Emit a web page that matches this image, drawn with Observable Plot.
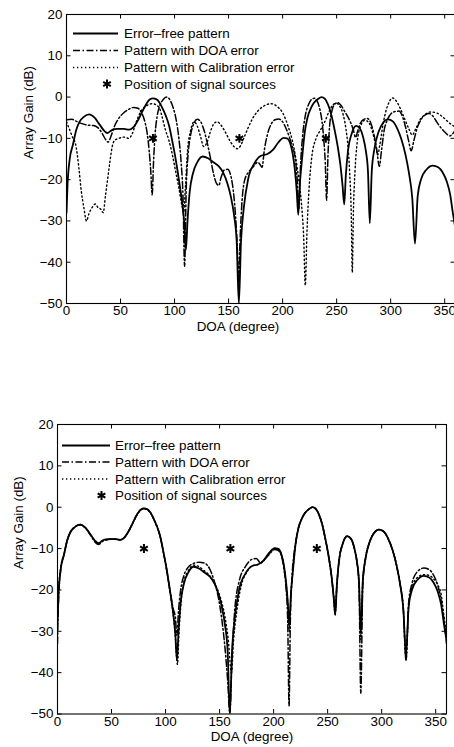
<!DOCTYPE html>
<html><head><meta charset="utf-8">
<script src="https://cdn.jsdelivr.net/npm/d3@7"></script>
<script src="https://cdn.jsdelivr.net/npm/@observablehq/plot@0.6"></script>
<style>
html,body{margin:0;padding:0;background:#fff;}
body{width:454px;height:747px;overflow:hidden;position:relative;font-family:"Liberation Sans",Arial,sans-serif;}
#top{position:absolute;left:0;top:0;width:472px;}
#bottom{position:absolute;left:0;top:410px;width:454px;}
#legend{position:absolute;left:0;top:0;}
</style></head><body>
<div id="top"></div><div id="bottom"></div>
<svg id="legend" width="454" height="747"></svg>
<script>
// ---------- data ----------
const xTicks = [0, 50, 100, 150, 200, 250, 300, 350];
const yTicks = [-50, -40, -30, -20, -10, 0, 10, 20];
const xLabel = "DOA (degree)";
const yLabel = "Array Gain (dB)";
const legendLabels = ["Error\u2013free pattern", "Pattern with DOA error", "Pattern with Calibration error", "Position of signal sources"];
const sourceDOA = [80, 160, 240];
const sourceGain = [-10, -10, -10];

// error-free pattern [DOA, gain dB]
const errorFree = [[0,-28],[1,-21],[3,-15],[6,-11.5],[9,-8],[12,-6],[16,-4.8],[21,-4.2],[26,-5],[31,-6.8],[35,-8.2],[38,-8.7],[42,-8],[47,-7.7],[53,-7.7],[58,-7.9],[62,-7.3],[66,-5.7],[70,-3.6],[74,-1.6],[77,-0.6],[80,-0.3],[83,-0.5],[86,-1.3],[89,-2.8],[92,-4.6],[95,-7],[98,-10.8],[101,-15],[104,-20],[107,-25.5],[109,-30.5],[110.5,-37],[112,-30],[114,-23],[117,-18.5],[121,-15.8],[126,-14.4],[131,-14.8],[136,-15.8],[141,-16.8],[145,-18.3],[149,-21],[152,-24],[155,-28.5],[157.5,-35],[159.5,-50],[161.5,-35],[164,-27],[168,-20],[174,-16],[180,-14.2],[186,-13.8],[191,-12.8],[196,-11],[201,-9.9],[204,-10],[207,-11.2],[209.5,-14],[211.5,-18],[213,-22.5],[214.5,-28.5],[216,-21],[218,-15],[220.5,-8.5],[223,-5],[226,-2.8],[229,-1.4],[233,-0.4],[236,0],[239,-0.4],[242,-1.8],[245,-4.2],[248,-7.8],[251,-12],[253.5,-16.5],[255.5,-21.5],[257,-26],[258.5,-19],[260.5,-13],[264,-8.8],[268,-7],[271.5,-7.6],[274.5,-9.7],[277,-13],[279,-18],[280.7,-30.6],[282.5,-18],[285,-12.5],[289,-8.3],[293,-6.2],[297.5,-5.4],[302,-5.9],[306,-7.6],[310,-10.3],[314,-14.3],[317,-18.5],[320,-24.5],[322.5,-35.5],[325,-24],[328,-20],[333,-17.6],[339,-16.6],[344,-17],[348,-18.2],[352,-20.5],[355,-23.5],[357.5,-28],[360,-32]];

// upper panel: DOA error
const topDoaError = [[0,-5.5],[5,-5.4],[10,-6],[15,-6.5],[20,-6.8],[25,-6.9],[29,-7.4],[33,-8.8],[36,-10.2],[38.5,-10.9],[41,-9.6],[44,-7.3],[48,-5.3],[53,-3.8],[58,-2.9],[62.3,-2.5],[66,-2.7],[69,-3.6],[72,-5.5],[74.5,-8.5],[76.5,-13],[78,-18],[79.3,-23.7],[80.5,-16],[82,-9],[84,-4.5],[86.5,-2],[89.5,-0.6],[93,0],[96,-0.8],[99,-2.8],[101.5,-5.5],[104,-10],[106,-15.5],[107.8,-24],[109.3,-41],[110.8,-22],[112.5,-14],[115,-9],[118,-6.3],[121,-5.4],[124,-5.9],[127,-7.8],[130,-10.8],[133,-14.5],[136,-18.5],[139,-21],[141,-21.4],[143,-19.5],[146,-17.7],[149,-17.5],[152,-19],[154.5,-23],[156.5,-29],[158,-36],[159.3,-45],[160.7,-34],[162.5,-25],[165,-20],[169,-18],[173,-16.8],[177,-15.8],[179.5,-16.5],[181,-17],[183,-13],[186,-9],[189.5,-6.5],[193,-5.5],[196.5,-5.3],[200,-6],[203,-7.5],[206,-9.5],[209,-12],[211.5,-14.5],[213.5,-20],[215,-27],[216.5,-17],[218.5,-9.5],[221,-4.5],[224,-1.8],[227,-0.5],[229.5,-0.3],[232,-1],[234.5,-3],[236.5,-6],[238,-10],[239.5,-16],[240.7,-25],[242,-14],[243.5,-7],[245.5,-3.5],[248,-1.8],[251,-1.3],[254,-2],[257,-3.3],[260,-4.6],[263,-6.2],[265.5,-8],[267.5,-9.8],[269.5,-8.2],[272,-6.3],[275,-5.4],[278.4,-5.2],[281.5,-6.2],[284.5,-9],[287,-12.5],[289.5,-16.8],[291.5,-13],[294,-8],[297,-5.5],[300.5,-4],[304,-3.5],[307.7,-3.4],[311,-4.8],[314,-7.5],[316.5,-10.5],[319,-13],[321.5,-10.5],[324.5,-7.5],[328,-5.5],[332,-4.3],[335.5,-4],[339,-4.6],[343,-6.2],[347,-7.6],[351,-8.7],[354.5,-9.4],[357,-9],[360,-7.8]];

// upper panel: calibration error
const topCalError = [[0,-6],[3,-8],[6,-10],[8.3,-11.3],[11.4,-17],[13.6,-22.6],[16,-26.7],[18.5,-30],[20.7,-28.3],[23.8,-26.7],[26.9,-25.9],[29,-26.7],[31.5,-27.1],[34,-28],[36,-24],[38,-20],[40,-16],[42.3,-12],[44.4,-10.5],[48.5,-10],[53,-9.7],[57.7,-10],[60.8,-8.9],[63.9,-6.5],[68.5,-3.6],[74.7,-2],[79.3,-1.6],[85.5,-2.4],[88.6,-4.9],[91.7,-8.1],[94.8,-10.5],[98,-14],[101,-18],[104,-22],[107,-26.5],[108.5,-28],[110,-22],[112,-13],[115,-8],[118,-6],[121,-7],[124,-9.5],[127,-12],[130,-11],[133,-8.5],[136,-6.6],[139.5,-6],[143,-6.8],[147,-8.5],[151,-10.5],[155,-12],[158,-12.5],[161,-11.8],[164,-10],[168,-7.5],[172,-5.3],[177,-3.4],[183,-2.1],[189,-1.6],[195,-2.3],[200,-3.8],[205,-7],[209,-10.5],[212,-14.5],[215,-20],[217.5,-26],[219.5,-34],[221,-45.6],[222.5,-33],[224.5,-22],[227,-14.5],[231,-10],[235,-8],[239,-6],[243,-3.5],[247,-1.8],[250,-1.5],[253,-2.3],[256,-4.2],[258.5,-7.5],[260.5,-12],[262,-18],[263.5,-28],[264.5,-42.5],[265.5,-28],[267,-18],[269,-11],[272,-7.2],[276,-5.6],[280,-6.3],[283,-8.3],[286,-11.5],[288,-14],[290,-11.5],[293,-6.5],[296,-3],[299,-1],[301.5,-0.2],[305,-0.9],[309,-2.8],[313,-5.3],[317,-7.8],[320,-9.2],[323,-7.8],[327,-5.6],[332,-4.2],[337,-3.6],[343,-3.9],[349,-5],[354,-6.2],[360,-7.3]];

// lower panel: DOA error
const botDoaError = [[0,-33],[1,-22],[3,-15],[6,-11.5],[9,-8],[12,-6],[16,-4.8],[21,-4.2],[26,-5],[31,-6.9],[35,-8.5],[38,-9],[42,-8.2],[47,-7.8],[53,-7.7],[58,-7.9],[62,-7.3],[66,-5.7],[70,-3.6],[74,-1.6],[77,-0.6],[80,-0.3],[83,-0.5],[86,-1.3],[89,-2.8],[92,-4.6],[95,-7],[98,-10.8],[101,-15],[104,-20],[107,-24.5],[109,-26.5],[110.5,-31],[112,-25],[114,-20],[117,-16.5],[121,-14.5],[126,-13.6],[131,-13.3],[136,-13.5],[141,-15],[145,-17.8],[149,-22],[152,-27],[155,-34],[157.5,-42],[159.5,-50],[161.5,-36],[164,-25],[168,-18],[174,-14.3],[180,-12.6],[184,-12.4],[188,-13.5],[191,-12.8],[196,-11.4],[201,-10.2],[204,-10.4],[207,-11.6],[209.5,-14.8],[211.5,-19.5],[213,-27],[214.3,-48],[215.5,-27],[217,-17],[219,-11],[220.5,-8.5],[223,-5],[226,-2.8],[229,-1.4],[233,-0.4],[236,0],[239,-0.4],[242,-1.8],[245,-4.2],[248,-7.8],[251,-12],[253.5,-16.5],[255.5,-21.5],[257,-26],[258.5,-19],[260.5,-13],[264,-8.8],[268,-7],[271.5,-7.6],[274.5,-9.7],[277,-13],[279,-19],[280.7,-45],[282.5,-19],[285,-12.5],[289,-8.3],[293,-6.2],[297.5,-5.4],[302,-5.9],[306,-7.6],[310,-10.3],[314,-14.3],[317,-18.5],[320,-24.5],[322.5,-37],[325,-23],[328,-18.5],[333,-15.6],[339,-14.7],[344,-15.1],[348,-16.4],[352,-19],[355,-22.5],[357.5,-27],[360,-33]];

// lower panel: calibration error
const botCalError = [[0,-26],[1,-20],[3,-14.5],[6,-11.3],[9,-8],[12,-6],[16,-4.8],[21,-4.3],[26,-5.1],[31,-6.9],[35,-8.3],[38,-8.8],[42,-8.1],[47,-7.8],[53,-7.7],[58,-7.9],[62,-7.3],[66,-5.8],[70,-3.7],[74,-1.7],[77,-0.7],[80,-0.4],[83,-0.6],[86,-1.4],[89,-2.9],[92,-4.7],[95,-7.1],[98,-10.9],[101,-15.2],[104,-20.3],[107,-25.8],[109,-31],[111,-38],[112.5,-30],[114.5,-22.5],[117,-18],[121,-15.4],[126,-14],[131,-14.4],[136,-15.4],[141,-16.6],[145,-18.3],[149,-20.5],[152,-23],[155,-26.5],[158,-32],[161,-40],[163,-32],[166,-25],[170,-19],[175,-15.8],[180,-14.2],[186,-13.8],[191,-12.9],[196,-11.2],[201,-10],[204,-10.1],[207,-11.3],[209.5,-14.2],[211.5,-18.5],[213,-23],[214.5,-30],[216,-21.5],[218,-15],[220.5,-8.5],[223,-5],[226,-2.8],[229,-1.4],[233,-0.4],[236,0],[239,-0.4],[242,-1.8],[245,-4.2],[248,-7.8],[251,-12],[253.5,-16.5],[255.5,-21.5],[257,-25],[258.5,-19],[260.5,-13],[264,-8.8],[268,-7],[271.5,-7.6],[274.5,-9.7],[277,-13],[279,-18],[280.7,-32],[282.5,-18],[285,-12.5],[289,-8.3],[293,-6.2],[297.5,-5.4],[302,-5.9],[306,-7.6],[310,-10.3],[314,-14.3],[317,-18.5],[320,-24.5],[322.5,-37],[325,-24],[328,-19.5],[333,-17],[339,-16.3],[344,-16.5],[348,-17.3],[352,-18.8],[355,-21],[357.5,-26],[360,-31]];

// ---------- drawing ----------
const FONT = "'Liberation Sans', Arial, Helvetica, sans-serif";
const FS = 13.4;
const toRows = pts => pts.map(([x, y]) => ({x, y}));
const sources = sourceDOA.map((x, i) => ({x, y: sourceGain[i]}));
const fmt = d => (d < 0 ? "\u2212" + (-d) : String(d));

const SOLID = {stroke: "#000", strokeWidth: 1.8};
const DASHDOT = {stroke: "#000", strokeWidth: 1.5, strokeDasharray: "7,2.5,1.5,2.5"};
const DOTTED = {stroke: "#000", strokeWidth: 1.4, strokeDasharray: "1.3,2.7"};

function panel({width, height, mt, mb, ml, mr, doa, cal, xLabelDx, xLabelDy, yLabelDx}) {
  const iw = width - ml - mr, ih = height - mt - mb;
  return Plot.plot({
    width, height, marginTop: mt, marginBottom: mb, marginLeft: ml, marginRight: mr,
    style: `max-width:none;font-family:${FONT};font-size:${FS}px;color:#000;background:#fff;`,
    x: {domain: [0, 360]},
    y: {domain: [-50, 20]},
    marks: [
      Plot.line(toRows(cal), {x: "x", y: "y", curve: "monotone-x", clip: true, ...DOTTED}),
      Plot.line(toRows(doa), {x: "x", y: "y", curve: "monotone-x", clip: true, ...DASHDOT}),
      Plot.line(toRows(errorFree), {x: "x", y: "y", curve: "monotone-x", clip: true, ...SOLID}),
      Plot.dot(sources, {x: "x", y: "y", symbol: "asterisk", r: 4.2, stroke: "#000", strokeWidth: 2}),
      Plot.tickX(xTicks, {x: d => d, insetTop: ih - 4.5, stroke: "#000"}),
      Plot.tickX(xTicks, {x: d => d, insetBottom: ih - 4.5, stroke: "#000"}),
      Plot.tickY(yTicks, {y: d => d, insetRight: iw - 4.5, stroke: "#000"}),
      Plot.tickY(yTicks, {y: d => d, insetLeft: iw - 4.5, stroke: "#000"}),
      Plot.frame({stroke: "#000", strokeWidth: 1.1}),
      Plot.axisX(xTicks, {tickSize: 0, tickPadding: 2, label: null, fontSize: FS, fill: "#000"}),
      Plot.axisY(yTicks, {tickSize: 0, tickPadding: 4, label: null, tickFormat: fmt, fontSize: FS, fill: "#000"}),
      Plot.text([xLabel], {text: d => d, frameAnchor: "bottom", dy: xLabelDy, dx: xLabelDx, fontSize: FS, fill: "#000"}),
      Plot.text([yLabel], {text: d => d, frameAnchor: "left", rotate: -90, dx: yLabelDx, fontSize: FS, fill: "#000"})
    ]
  });
}

document.getElementById("top").append(panel({
  width: 472, height: 335, mt: 14, mb: 32, ml: 66, mr: 17,
  doa: topDoaError, cal: topCalError, xLabelDx: -23, xLabelDy: 27.5, yLabelDx: -38
}));
document.getElementById("bottom").append(panel({
  width: 454, height: 338, mt: 14, mb: 34.5, ml: 57, mr: 8,
  doa: botDoaError, cal: botCalError, xLabelDx: 0, xLabelDy: 26.5, yLabelDx: -39
}));

// legends (inside each axes, upper-left)
const legendBoxes = [
  {rows: [33.5, 50.5, 67.5, 84], x1: 73, x2: 118, tx: 124, sx: 107},
  {rows: [445.5, 462, 479, 495.5], x1: 62, x2: 110, tx: 115, sx: 101.5}
];
const styles = [SOLID, DASHDOT, DOTTED];
const svg = d3.select("#legend");
legendBoxes.forEach(b => {
  legendLabels.forEach((lab, i) => {
    const y = b.rows[i];
    if (i < 3) {
      const st = styles[i];
      svg.append("line").attr("x1", b.x1).attr("x2", b.x2).attr("y1", y).attr("y2", y)
        .attr("stroke", st.stroke).attr("stroke-width", st.strokeWidth)
        .attr("stroke-dasharray", st.strokeDasharray || null);
    } else {
      svg.append("path").attr("d", d3.symbol(d3.symbolAsterisk, 4.2 * 4.2 * Math.PI)())
        .attr("transform", `translate(${b.sx},${y})`).attr("stroke", "#000").attr("stroke-width", 2).attr("fill", "none");
    }
    svg.append("text").attr("x", b.tx).attr("y", y).attr("dy", "0.35em")
      .attr("font-family", FONT).attr("font-size", FS).attr("fill", "#000").text(lab);
  });
});
</script>
</body></html>
